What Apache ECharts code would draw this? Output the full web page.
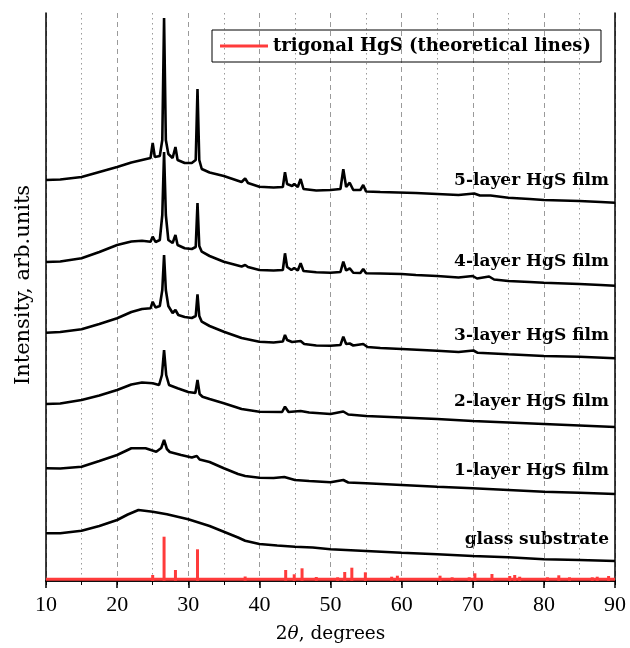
<!DOCTYPE html>
<html>
<head>
<meta charset="utf-8">
<script src="https://cdn.jsdelivr.net/npm/echarts@6/dist/echarts.min.js"></script>
<style>
  html, body { margin: 0; padding: 0; background: #fff; }
  #chart { width: 630px; height: 648px; }
</style>
</head>
<body>
<div id="chart"></div>
<script>
// 2theta (degrees), intensity (arb. units)
var layer5 = [[10,401],[12,401.5],[15,404],[17.5,409],[20,414],[22,418.5],[23.5,421],[24.7,423],[25,438],[25.3,424],[26,425],[26.35,441],[26.6,563],[26.85,441],[27.2,427],[27.8,423],[28.2,434],[28.5,421],[29.5,418],[30.5,418],[31.05,421],[31.3,492],[31.55,421],[31.9,412],[33,408.5],[35,405],[37.5,399],[38,402.5],[38.4,398],[40,394.3],[42,393.5],[43.3,394],[43.6,408.7],[43.9,397],[44.6,395],[44.9,397],[45.4,394],[45.8,402],[46.2,392],[48,390.5],[50,391],[51.4,392],[51.8,411.7],[52.2,394],[52.7,398.3],[53.2,391],[54.2,391],[54.6,396],[55,389.5],[57,389],[59.5,388.5],[62,388],[65,387],[68,386],[70.2,387.5],[71,385.5],[72.5,385.5],[75,383.3],[78,382],[80,381],[85,380],[88,379],[90,378.3]];
var layer4 = [[10,319],[12,319.5],[15,322.7],[17.5,329],[20,336],[22,339.5],[23.5,340.3],[24.7,339.3],[25,344.3],[25.4,339],[26,341],[26.35,366],[26.6,429],[26.85,366],[27.2,341],[27.8,338],[28.2,346],[28.5,336],[29.5,332.7],[30.5,332],[31.05,334],[31.3,378],[31.55,335],[31.9,329.3],[33,325],[35,319.3],[37.5,314.5],[38,316],[38.4,314],[40,311],[42,310.5],[43.3,311],[43.6,327.7],[43.9,314],[44.5,311],[44.9,313],[45.4,310.5],[45.8,317.7],[46.2,310],[48,308.7],[50,308.3],[51.4,309],[51.8,319.3],[52.2,310.5],[52.7,312.7],[53.2,308.3],[54.2,308],[54.6,312],[55,307.7],[57,307.5],[60,307],[62,306],[65,305],[68,303.5],[70,305],[70.6,302.5],[72.3,304.5],[73,301.5],[75,300],[78,299],[80,298.3],[85,297],[88,296],[90,295.3]];
var layer3 = [[10,248.3],[12,249],[15,251.7],[17.5,257],[20,262.7],[22,269],[23.5,272],[24.7,272.7],[25,279.3],[25.4,273.5],[26,275],[26.35,291],[26.6,326],[26.85,291],[27.2,275],[27.8,268],[28.2,271],[28.6,266],[29.5,264],[30.5,263],[31.05,265],[31.3,286.7],[31.55,265],[31.9,259.3],[33,255],[35,249.3],[37.5,243],[40,239.3],[42,238.5],[43.3,239.5],[43.6,246],[43.9,241],[44.6,239],[45.8,240],[46.3,237],[48,235.5],[50,235.3],[51.4,236],[51.8,244.3],[52.2,237],[52.7,237.5],[53.2,235.5],[54.6,237],[55.2,234],[57,233],[60,232],[65,230.3],[68,229],[70.1,230.5],[70.7,228.2],[75,226.7],[80,225],[85,224.3],[90,222.7]];
var layer2 = [[10,177],[12,177.5],[15,181],[17.5,185.5],[20,191],[22,196.5],[23.5,198.5],[25,197.7],[25.9,196],[26.3,206],[26.6,231],[26.9,206],[27.3,196],[28.5,192.7],[30,189],[31,188],[31.3,201],[31.6,187],[32,184.3],[33,182],[35,177.7],[37.5,172],[40,169.3],[43.2,169],[43.6,174.3],[44.1,169],[45.8,170],[47,168.5],[50,167],[51.8,169.5],[52.5,166.5],[55,165],[60,163.5],[65,162],[70,160],[75,158.5],[80,157],[85,155.5],[90,154]];
var layer1 = [[10,112.7],[12,112.5],[15,114.3],[17.5,120],[20,126],[22,132.7],[24,132.7],[25.5,129.3],[26.2,133],[26.6,141],[27,132],[27.4,129],[29,126],[30.5,123.5],[31.2,125],[31.6,121.5],[33,119],[35,112.7],[37,107],[38,105],[40,103.3],[42,103],[43.5,104],[45,101],[47,100],[50,98.7],[51.8,101],[52.5,98.5],[55,97.7],[60,96],[65,94.3],[70,92.7],[75,91],[80,89.3],[85,88.3],[90,87]];
var glass = [[10,47.7],[12,47.7],[15,50.3],[17.5,55],[20,61],[21.5,66.5],[23,71],[25,69.3],[27,66.7],[30,61.7],[33,55],[35,49.3],[37,43.5],[38,40.3],[40,37],[42.5,35.5],[45,34.3],[47.5,33.5],[50,31.7],[55,30],[60,28.3],[65,26.7],[70,25],[75,23.7],[80,21.7],[85,21],[90,20]];

// trigonal HgS reference lines: position and height
var refPos = [25.0,26.6,28.2,31.3,38.0,43.7,44.9,46.0,48.0,51.0,52.0,53.0,54.9,58.6,59.4,65.4,67.1,69.5,70.3,72.7,75.2,75.9,76.6,80.5,82.1,83.6,86.8,87.5,89.1];
var refHeight = [6,44.3,11,31.7,4.5,11,6.7,12.7,4,3.7,9,13.3,8.7,4.3,5.3,5.3,3.7,3.7,7.7,7,5,6,4.3,3.7,5.7,3.7,3.7,4.3,5];
var refBase = [[10,1.7],[90,1.7]];

var curveNames = ['5-layer HgS film','4-layer HgS film','3-layer HgS film','2-layer HgS film','1-layer HgS film','glass substrate'];
var curveData = [layer5, layer4, layer3, layer2, layer1, glass];
var labelY = [181, 262, 336, 402, 471, 540];
var legendName = 'trigonal HgS (theoretical lines)';

var serif = 'Liberation Serif';
var wideSerif = 'DejaVu Serif';
var red = '#ff3b3b';

var chart = echarts.init(document.getElementById('chart'));

var series = curveData.map(function (d, i) {
    return {
        name: curveNames[i],
        type: 'line',
        data: d,
        symbol: 'none',
        lineStyle: { color: '#000', width: 2.6 },
        silent: true,
        z: 3
    };
});
series.push({
    name: legendName,
    type: 'line',
    data: refBase,
    symbol: 'none',
    itemStyle: { color: red },
    lineStyle: { color: red, width: 3 },
    z: 2
});
series.push({
    name: 'refLines',
    type: 'bar',
    data: refPos.map(function (p, i) { return [p, refHeight[i]]; }),
    barWidth: 3,
    itemStyle: { color: red },
    z: 2
});

var labels = curveNames.map(function (n, i) {
    return {
        type: 'text',
        x: 609,
        y: labelY[i],
        style: {
            text: n,
            font: 'bold 17px "' + wideSerif + '"',
            fill: '#000',
            textAlign: 'right',
            textVerticalAlign: 'middle'
        }
    };
});
labels.push({
    type: 'text',
    x: 24,
    y: 285,
    rotation: Math.PI / 2,
    style: {
        text: 'Intensity, arb.units',
        font: '21px "' + wideSerif + '"',
        fill: '#000',
        textAlign: 'center',
        textVerticalAlign: 'middle'
    }
});

chart.setOption({
    animation: false,
    grid: { left: 46, right: 15, top: 13, bottom: 67, outerBoundsMode: 'none' },
    legend: {
        data: [{ name: legendName, icon: 'rect' }],
        left: 212,
        top: 30,
        itemWidth: 48,
        itemHeight: 3,
        padding: [7, 10, 7, 8],
        borderColor: '#000',
        borderWidth: 1,
        textStyle: { fontFamily: wideSerif, fontWeight: 'bold', fontSize: 18, color: '#000' }
    },
    xAxis: [{
        type: 'value',
        min: 10, max: 90, interval: 10,
        name: '{n|2}{t|θ}{n|, degrees}',
        nameLocation: 'middle',
        nameGap: 44,
        nameTextStyle: {
            rich: {
                n: { fontFamily: wideSerif, fontSize: 18.5, color: '#000' },
                t: { fontFamily: wideSerif, fontSize: 18.5, fontStyle: 'italic', color: '#000' }
            }
        },
        axisLine: { lineStyle: { color: '#000', width: 1.5 } },
        axisTick: { length: 7, lineStyle: { color: '#000', width: 1.5 } },
        minorTick: { show: true, splitNumber: 2, length: 4, lineStyle: { color: '#000', width: 1 } },
        axisLabel: { fontFamily: serif, fontSize: 22, color: '#000', margin: 13 },
        splitLine: { show: true, lineStyle: { color: '#9a9a9a', type: [5, 4], width: 1 } },
        minorSplitLine: { show: true, lineStyle: { color: '#9a9a9a', type: [1.5, 3.5], width: 1 } }
    }, {
        type: 'value',
        position: 'top',
        min: 10, max: 90, interval: 10,
        axisLine: { lineStyle: { color: '#000', width: 1.5 } },
        axisTick: { inside: true, length: 4, lineStyle: { color: '#000' } },
        minorTick: { show: true, splitNumber: 2, length: 3, lineStyle: { color: '#000' } },
        axisLabel: { show: false },
        splitLine: { show: false }
    }],
    yAxis: [{
        type: 'value',
        min: 0, max: 568,
        axisLine: { show: true, lineStyle: { color: '#000', width: 1.5 } },
        axisTick: { show: false },
        axisLabel: { show: false },
        splitLine: { show: false }
    }, {
        type: 'value',
        position: 'right',
        min: 0, max: 568,
        axisLine: { show: true, lineStyle: { color: '#000', width: 1.5 } },
        axisTick: { show: false },
        axisLabel: { show: false },
        splitLine: { show: false }
    }],
    graphic: labels,
    series: series
});
</script>
</body>
</html>
